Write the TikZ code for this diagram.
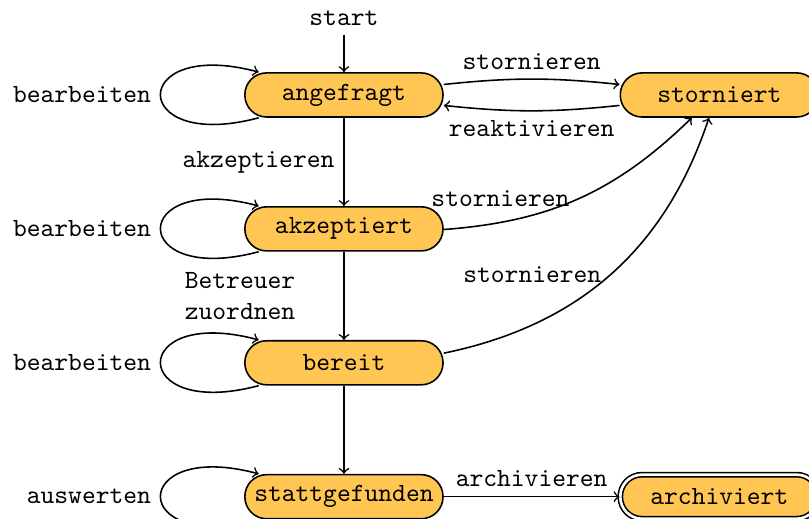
\documentclass[tikz,border=0pt]{standalone}
\usetikzlibrary{arrows.meta, positioning}
\definecolor{stateorange}{HTML}{FFC654}

\begin{document}
\begin{tikzpicture}[>=to, semithick, every node/.style={font=\ttfamily},
  state/.style={draw, fill=stateorange, rounded corners=8.3pt,
    minimum width=2.65cm, minimum height=0.59cm},
  final/.style={state, double, double distance=1pt},
  every loop/.append style={looseness=7.6}]
  \useasboundingbox (-4.60,-5.67) rectangle (6.22,1.27);
  % States down the left
  \node[state] (angefragt) at (0,0) {angefragt};
  \node[state, below=1.18cm of angefragt] (akzeptiert) {akzeptiert};
  \node[state, below=1.18cm of akzeptiert] (bereit) {bereit};
  \node[state, below=1.18cm of bereit] (stattgefunden) {stattgefunden};
  % States on the right
  \node[state, right=2.35cm of angefragt] (storniert) {storniert};
  \node[final, right=2.35cm of stattgefunden] (archiviert) {archiviert};
  \node[above=0.5cm of angefragt] (start) {start};
  % Transitions
  \draw[->] (start) -- (angefragt);
  \draw[->] (angefragt) to[bend left=6] node[above] {stornieren} (storniert);
  \draw[->] (storniert) to[bend left=6] node[below] {reaktivieren} (angefragt);
  \draw[->] (angefragt) -- node[left] {akzeptieren} (akzeptiert);
  \draw[->] (akzeptiert) to[bend right=20] node[left] {stornieren} (storniert);
  \draw[->] (akzeptiert) -- node[left, text width=2cm, align=left] {Betreuer zuordnen} (bereit);
  \draw[->] (bereit) to[bend right=30] node[left] {stornieren} (storniert);
  \draw[->] (bereit) -- (stattgefunden);
  \draw[->] (stattgefunden) -- node[above] {archivieren} (archiviert);
  % Loops
  \draw[->] (angefragt) to[loop left] node[left] {bearbeiten} (angefragt);
  \draw[->] (akzeptiert) to[loop left] node[left] {bearbeiten} (akzeptiert);
  \draw[->] (bereit) to[loop left] node[left] {bearbeiten} (bereit);
  \draw[->] (stattgefunden) to[loop left] node[left] {auswerten} (stattgefunden);
\end{tikzpicture}
\end{document}
